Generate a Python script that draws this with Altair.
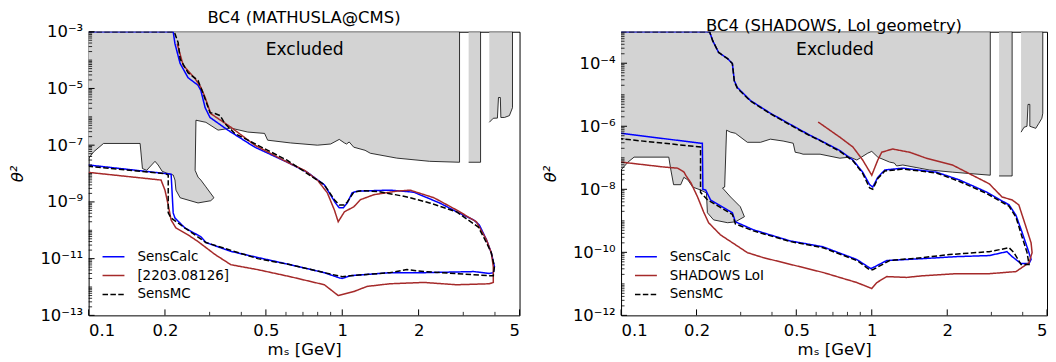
import math
import altair as alt
import pandas as pd

FONT = "DejaVu Sans"
FS = 16.5

# ---------------- tick values / labels ----------------
x_major = [0.1, 0.2, 0.5, 1, 2, 5]
x_major_labels = ["0.1", "0.2", "0.5", "1", "2", "5"]
x_minor = [0.3, 0.4, 0.6, 0.7, 0.8, 0.9, 3, 4]

L_y_major = [1e-13, 1e-11, 1e-9, 1e-7, 1e-5, 1e-3]
L_y_labels = ["10⁻¹³", "10⁻¹¹", "10⁻⁹", "10⁻⁷", "10⁻⁵", "10⁻³"]
R_y_major = [1e-12, 1e-10, 1e-8, 1e-6, 1e-4]
R_y_labels = ["10⁻¹²", "10⁻¹⁰", "10⁻⁸", "10⁻⁶", "10⁻⁴"]

# ---------------- LEFT panel (MATHUSLA@CMS) ----------------
L_blue_x = [0.1, 0.2155, 0.219, 0.2295, 0.2466, 0.270, 0.277, 0.288, 0.301, 0.354, 0.452, 0.608, 0.729, 0.850,
            0.940, 0.973, 1.01, 1.047, 1.094, 1.145, 1.54, 1.915, 2.42, 2.82, 3.30, 3.47, 3.70, 3.87, 3.98,
            3.94, 3.80, 3.30, 2.10, 1.54, 1.075, 1.0, 0.973, 0.85, 0.625, 0.464, 0.364, 0.290, 0.277, 0.240,
            0.219, 0.2155, 0.2115, 0.1]
L_blue_y = [1e-3, 1e-3, 3.8e-4, 7.6e-5, 2.4e-5, 1.3e-5, 8.5e-6, 2.1e-6, 9.5e-7, 3.4e-7, 8.5e-8, 2.5e-8, 1.1e-8, 4.0e-9,
            9.2e-10, 6.2e-10, 6.2e-10, 9.2e-10, 2.1e-9, 2.4e-9, 2.6e-9, 2.2e-9, 9.2e-10, 4.5e-10, 2.3e-10, 1.55e-10,
            4.7e-11, 1.6e-11, 5.2e-12, 3.2e-12, 3.0e-12, 3.5e-12, 3.2e-12, 3.2e-12, 2.5e-12, 2.0e-12, 2.1e-12,
            3.2e-12, 6.1e-12, 1.1e-11, 1.8e-11, 3.7e-11, 5.9e-11, 1.2e-10, 2.7e-10, 4.1e-10, 9.5e-9, 2.0e-8]

L_red_x = [0.2235, 0.236, 0.263, 0.277, 0.288, 0.303, 0.364, 0.452, 0.608, 0.710, 0.798, 0.873, 0.931, 0.964,
           1.02, 1.11, 1.18, 1.334, 1.64, 1.85, 2.30, 2.82, 3.38, 3.70, 3.87, 3.94, 3.94, 3.80, 2.82, 2.10, 1.54,
           1.253, 1.11, 0.964, 0.850, 0.625, 0.464, 0.364, 0.315, 0.270, 0.2466, 0.221, 0.2115, 0.206, 0.200,
           0.193, 0.1]
L_red_y = [3.8e-4, 6.5e-5, 2.2e-5, 1.1e-5, 4.8e-6, 1.3e-6, 4.3e-7, 1.0e-7, 2.5e-8, 1.3e-8, 5.9e-9, 2.1e-9, 5.2e-10,
           2.0e-10, 4.5e-10, 6.7e-10, 1.2e-9, 1.8e-9, 2.4e-9, 2.6e-9, 1.4e-9, 5.2e-10, 2.0e-10, 4.7e-11, 1.6e-11,
           5.2e-12, 1.45e-12, 1.3e-12, 1.2e-12, 1.45e-12, 1.3e-12, 1.05e-12, 6.9e-13, 5.0e-13, 1.2e-12, 2.3e-12,
           4.1e-12, 6.1e-12, 1.4e-11, 4.0e-11, 6.9e-11, 1.2e-10, 2.3e-10, 7.8e-10, 2.6e-9, 5.9e-9, 1.1e-8]

L_black_x = [0.1, 0.2155, 0.219, 0.2255, 0.2295, 0.2466, 0.270, 0.282, 0.301, 0.315, 0.330, 0.344, 0.377, 0.608,
             0.850, 0.931, 0.973, 1.02, 1.047, 1.11, 1.20, 1.40, 1.80, 2.21, 2.82, 3.44, 3.70, 3.87, 3.98, 3.94,
             3.80, 2.10, 1.80, 1.54, 1.075, 1.0, 0.85, 0.625, 0.464, 0.290, 0.240, 0.2115, 0.206, 0.206, 0.200, 0.1]
L_black_y = [1e-3, 1e-3, 8.5e-4, 4.1e-4, 1.1e-4, 3.6e-5, 1.9e-5, 7.2e-6, 1.4e-6, 1.3e-6, 1.1e-6, 5.9e-7, 2.6e-7,
             2.9e-8, 4.0e-9, 1.2e-9, 7.8e-10, 7.8e-10, 1.0e-9, 2.2e-9, 2.5e-9, 2.3e-9, 1.5e-9, 9.2e-10, 4.5e-10,
             1.3e-10, 3.7e-11, 1.6e-11, 5.2e-12, 2.5e-12, 2.5e-12, 3.5e-12, 4.1e-12, 3.2e-12, 2.5e-12, 2.3e-12,
             3.2e-12, 6.1e-12, 1.0e-11, 3.7e-11, 1.2e-10, 2.7e-10, 4.1e-10, 8.9e-9, 1.0e-8, 1.8e-8]

L_grey1_x = [0.1, 2.90, 2.90, 2.21, 1.64, 1.29, 1.23, 1.11, 1.065, 1.04, 1.02, 0.973, 0.90, 0.798, 0.625, 0.508,
             0.494, 0.424, 0.364, 0.324, 0.290, 0.265, 0.263, 0.270, 0.277, 0.290, 0.312, 0.303, 0.270, 0.2295,
             0.221, 0.219, 0.2155, 0.2023, 0.195, 0.188, 0.1827, 0.1694, 0.163, 0.1596, 0.1145, 0.1046, 0.1]
L_grey1_y = [1e-3, 1e-3, 2.5e-8, 2.7e-8, 3.5e-8, 5.2e-8, 6.6e-8, 8.5e-8, 1.3e-7, 1.1e-7, 1.2e-7, 1.6e-7, 1.1e-7,
             1.0e-7, 1.2e-7, 1.5e-7, 2.6e-7, 2.9e-7, 4.0e-7, 3.4e-7, 6.4e-7, 7.6e-7, 1.3e-8, 7.5e-9, 5.9e-9, 3.4e-9,
             1.4e-9, 1.1e-9, 9.2e-10, 1.4e-9, 2.6e-9, 5.9e-9, 8.9e-9, 1.05e-8, 1.2e-8, 2.0e-8, 2.7e-8, 1.3e-8,
             1.5e-8, 1.15e-7, 1.15e-7, 5.8e-8, 3.4e-8]
L_grey2_x = [3.15, 3.51, 3.51, 3.15]
L_grey2_y = [1e-3, 1e-3, 2.5e-8, 2.5e-8]
L_grey3_x = [3.80, 4.69, 4.69, 4.56, 4.36, 4.22, 4.20, 4.13, 4.09, 3.94, 3.80]
L_grey3_y = [1e-3, 1e-3, 2.1e-6, 1.1e-6, 9.5e-7, 9.5e-7, 4.8e-6, 4.8e-6, 9.0e-7, 8.9e-7, 6.4e-7]

# ---------------- RIGHT panel (SHADOWS) ----------------
R_blue_x = [0.1, 0.2255, 0.232, 0.245, 0.266, 0.278, 0.283, 0.291, 0.328, 0.394, 0.504, 0.567, 0.622, 0.746, 0.841,
            0.920, 0.981, 1.009, 1.057, 1.127, 1.33, 1.81, 2.23, 2.86, 3.53, 3.76, 3.97, 4.20, 4.32, 4.24, 3.94,
            3.63, 3.46, 2.94, 2.17, 1.59, 1.148, 1.028, 0.991, 0.872, 0.639, 0.473, 0.337, 0.2858, 0.278, 0.266,
            0.2275, 0.2175, 0.212, 0.211, 0.2075, 0.1]
R_blue_y = [1e-3, 1e-3, 5.2e-4, 2.2e-4, 1.4e-4, 9.8e-5, 2.8e-5, 1.7e-5, 6.6e-6, 2.6e-6, 8.7e-7, 5.2e-7, 3.6e-7,
            1.7e-7, 8.5e-8, 3.5e-8, 1.4e-8, 1.18e-8, 2.4e-8, 4.1e-8, 4.7e-8, 3.5e-8, 2.0e-8, 8.3e-9, 3.2e-9, 1.5e-9,
            4.5e-10, 1.2e-10, 6e-11, 4.4e-11, 4.4e-11, 7.3e-11, 1.05e-10, 7.9e-11, 7.3e-11, 6.3e-11, 5.5e-11,
            3.5e-11, 3.05e-11, 5.9e-11, 1.5e-10, 2.3e-10, 5.2e-10, 9.3e-10, 1.8e-9, 2.2e-9, 4.6e-9, 9.5e-9, 1.0e-8,
            2.9e-7, 2.9e-7, 6.0e-7]

R_red_x = [0.611, 0.622, 0.746, 0.841, 0.920, 1.0, 1.057, 1.096, 1.21, 1.415, 1.65, 2.10, 2.52, 2.94, 3.31, 3.63,
           3.86, 4.12, 4.32, 4.36, 4.24, 3.76, 2.94, 2.17, 1.59, 1.377, 1.148, 1.048, 1.0, 0.872, 0.639, 0.517,
           0.369, 0.319, 0.249, 0.2235, 0.2135, 0.202, 0.19, 0.181, 0.1785, 0.168, 0.148, 0.1]
R_red_y = [1.35e-6, 1.24e-6, 4.5e-7, 2.2e-7, 8.5e-8, 2.8e-8, 8.5e-8, 1.5e-7, 1.9e-7, 1.5e-7, 9.7e-8, 5.9e-8, 2.8e-8,
           1.5e-8, 5.7e-9, 4.6e-9, 3.2e-9, 6.5e-10, 2.0e-10, 9.8e-11, 4.7e-11, 2.45e-11, 2.1e-11, 2.1e-11, 1.8e-11,
           1.6e-11, 1.7e-11, 1.1e-11, 7.1e-12, 1.1e-11, 2.3e-11, 3.5e-11, 6.8e-11, 9.8e-11, 3.6e-10, 8.7e-10,
           1.9e-9, 5.7e-9, 1.6e-8, 2.8e-8, 3.5e-8, 4.7e-8, 5.1e-8, 7.3e-8]

R_black_x = [0.1, 0.2255, 0.232, 0.245, 0.266, 0.278, 0.283, 0.291, 0.328, 0.394, 0.504, 0.567, 0.622, 0.746,
             0.841, 0.920, 0.981, 1.009, 1.057, 1.127, 1.33, 1.81, 2.23, 2.86, 3.53, 3.76, 3.97, 4.16, 4.24, 3.94,
             3.69, 3.53, 2.94, 2.04, 1.59, 1.178, 1.009, 0.981, 0.872, 0.639, 0.473, 0.337, 0.2858, 0.278, 0.2215,
             0.2075, 0.2075, 0.1]
R_black_y = [1e-3, 1e-3, 5.2e-4, 2.2e-4, 1.4e-4, 9.8e-5, 2.6e-5, 1.6e-5, 6.3e-6, 2.5e-6, 8.3e-7, 5.0e-7, 3.5e-7,
             1.6e-7, 8.0e-8, 3.2e-8, 1.1e-8, 1.0e-8, 2.2e-8, 3.8e-8, 4.4e-8, 3.3e-8, 1.8e-8, 7.5e-9, 2.9e-9, 1.3e-9,
             3.2e-10, 1.0e-10, 4.1e-11, 4.1e-11, 9.8e-11, 1.4e-10, 1.05e-10, 8.5e-11, 6.8e-11, 5.5e-11, 2.8e-11,
             2.8e-11, 5.5e-11, 1.4e-10, 2.2e-10, 4.8e-10, 8.0e-10, 1.6e-9, 4.6e-9, 8.0e-9, 2.2e-7, 4.0e-7]

R_grey1_x = [0.1, 2.97, 2.97, 2.10, 1.70, 1.55, 1.33, 1.256, 1.23, 1.178, 1.057, 1.0, 0.964, 0.872, 0.818, 0.746,
             0.622, 0.532, 0.517, 0.495, 0.486, 0.443, 0.394, 0.36, 0.319, 0.2858, 0.2735, 0.2635, 0.259, 0.254,
             0.2735, 0.299, 0.3105, 0.2858, 0.266, 0.234, 0.221, 0.219, 0.2075, 0.193, 0.1845, 0.178, 0.173, 0.162,
             0.158, 0.155, 0.1127, 0.1066, 0.1]
R_grey1_y = [1e-3, 1e-3, 2.8e-8, 3.5e-8, 4.1e-8, 4.7e-8, 5.9e-8, 5.5e-8, 6.8e-8, 7.3e-8, 1.05e-7, 1.6e-7, 1.4e-7,
             8.5e-8, 1.05e-7, 9.7e-8, 1.3e-7, 1.3e-7, 1.4e-7, 1.5e-7, 2.9e-7, 3.4e-7, 3.9e-7, 3.1e-7, 3.1e-7, 6.0e-7,
             6.5e-7, 7.5e-7, 1.18e-8, 1.1e-8, 5.7e-9, 2.8e-9, 1.35e-9, 9.3e-10, 8.7e-10, 1.07e-9, 1.8e-9, 7.7e-9,
             9.5e-9, 1.18e-8, 2.0e-8, 2.4e-8, 1.4e-8, 1.4e-8, 4.1e-8, 1.05e-7, 1.05e-7, 7.3e-8, 4.1e-8]
R_grey2_x = [3.22, 3.63, 3.63, 3.22]
R_grey2_y = [1e-3, 1e-3, 2.65e-8, 2.65e-8]
R_grey3_x = [3.94, 4.81, 4.81, 4.77, 4.64, 4.51, 4.27, 4.27, 4.20, 4.16, 4.05, 3.94]
R_grey3_y = [1e-3, 1e-3, 2.6e-6, 1.8e-6, 1.24e-6, 8.6e-7, 1.0e-6, 4.95e-6, 4.95e-6, 1.0e-6, 9.3e-7, 6.5e-7]

L_names = ["SensCalc", "[2203.08126]", "SensMC"]
R_names = ["SensCalc", "SHADOWS LoI", "SensMC"]
colors = ["#0000ff", "#a52a2a", "#000000"]
dashes = [[1, 0], [1, 0], [5.5, 2.4]]


def label_expr(values, labels):
    expr = f"'{labels[-1]}'"
    for i in range(len(values) - 2, -1, -1):
        mid = (values[i] * values[i + 1]) ** 0.5
        expr = f"datum.value < {mid:.6g} ? '{labels[i]}' : ({expr})"
    return expr


def minor_ticks(lo_exp, hi_exp, majors):
    out = []
    for e in range(lo_exp, hi_exp):
        for k in range(1, 10):
            v = float(f"{k}e{e}")
            if v not in majors:
                out.append(v)
    return out


def panel(title, ydom, greys, curves, names, ymaj, ylabels, excl_y, width, height):
    xs = alt.Scale(type="log", domain=[0.1, 5], nice=False)
    ys = alt.Scale(type="log", domain=ydom, nice=False)
    xaxis = alt.Axis(values=x_major, labelExpr=label_expr(x_major, x_major_labels), title="mₛ [GeV]",
                     ticks=False, domain=False, grid=False, labelPadding=7, titlePadding=3)
    yaxis = alt.Axis(values=ymaj, labelExpr=label_expr(ymaj, ylabels), title="θ²", ticks=False,
                     domain=False, grid=False, labelPadding=6, titlePadding=14, titleFontStyle="italic")
    X = lambda f: alt.X(f, scale=xs, axis=xaxis)
    Y = lambda f: alt.Y(f, scale=ys, axis=yaxis)

    grows = []
    for pi, (gx, gy) in enumerate(greys):
        for i, (a, b) in enumerate(zip(gx, gy)):
            grows.append({"poly": pi, "i": i, "x": a, "y": b})
    gdf = pd.DataFrame(grows)
    grey = alt.Chart(gdf).mark_line(fill="#d3d3d3", stroke="black", strokeWidth=0.8, clip=True).encode(
        x=X("x:Q"), y=Y("y:Q"), detail="poly:N", order="i:Q")

    crows = []
    for name, (cx, cy) in zip(names, curves):
        for i, (a, b) in enumerate(zip(cx, cy)):
            crows.append({"series": name, "i": i, "x": a, "y": b})
    cdf = pd.DataFrame(crows)
    leg = alt.Legend(title=None, orient="none", legendX=13, legendY=214, symbolType="stroke",
                     symbolStrokeWidth=1.5, symbolSize=484, labelFontSize=13.5, labelFont=FONT,
                     labelOffset=12, rowPadding=0, padding=0, labelColor="black")
    lines = alt.Chart(cdf).mark_line(strokeWidth=1.5, clip=True).encode(
        x=X("x:Q"), y=Y("y:Q"),
        color=alt.Color("series:N", scale=alt.Scale(domain=names, range=colors), legend=leg),
        strokeDash=alt.StrokeDash("series:N", scale=alt.Scale(domain=names, range=dashes), legend=leg),
        order="i:Q",
    )

    ymin = minor_ticks(int(round(math.log10(ydom[0]))), int(round(math.log10(ydom[1]))), ymaj)
    ymaj_df = pd.DataFrame({"y": ymaj})
    ymin_df = pd.DataFrame({"y": ymin})
    xmaj_df = pd.DataFrame({"x": x_major})
    xmin_df = pd.DataFrame({"x": x_minor})
    yt1 = alt.Chart(ymaj_df).mark_rule(color="black", strokeWidth=1).encode(
        y=Y("y:Q"), x=alt.value(0), x2=alt.value(6))
    yt2 = alt.Chart(ymin_df).mark_rule(color="black", strokeWidth=0.8).encode(
        y=Y("y:Q"), x=alt.value(0), x2=alt.value(3.5))
    xt1 = alt.Chart(xmaj_df).mark_rule(color="black", strokeWidth=1).encode(
        x=X("x:Q"), y=alt.value(height), y2=alt.value(height - 6))
    xt2 = alt.Chart(xmin_df).mark_rule(color="black", strokeWidth=0.8).encode(
        x=X("x:Q"), y=alt.value(height), y2=alt.value(height - 3.5))

    tdf = pd.DataFrame({"x": [0.499], "y": [excl_y], "t": ["Excluded"]})
    text = alt.Chart(tdf).mark_text(align="left", baseline="middle", fontSize=17.2, font=FONT, color="black").encode(
        x=X("x:Q"), y=Y("y:Q"), text="t:N")

    return alt.layer(grey, lines, yt1, yt2, xt1, xt2, text).properties(
        width=width, height=height,
        title=alt.TitleParams(title, fontSize=FS, font=FONT, fontWeight="normal", offset=-3,
                              anchor="middle", frame="group", color="black"),
    )


left = panel("BC4 (MATHUSLA@CMS)", [1e-13, 1e-3],
             [(L_grey1_x, L_grey1_y), (L_grey2_x, L_grey2_y), (L_grey3_x, L_grey3_y)],
             [(L_blue_x, L_blue_y), (L_red_x, L_red_y), (L_black_x, L_black_y)],
             L_names, L_y_major, L_y_labels, 2.3e-4, 433, 285)
right = panel("BC4 (SHADOWS, LoI geometry)", [1e-12, 1e-3],
              [(R_grey1_x, R_grey1_y), (R_grey2_x, R_grey2_y), (R_grey3_x, R_grey3_y)],
              [(R_blue_x, R_blue_y), (R_red_x, R_red_y), (R_black_x, R_black_y)],
              R_names, R_y_major, R_y_labels, 2.7e-4, 428, 285)

chart = alt.hconcat(left, right, spacing=21).resolve_scale(
    color="independent", strokeDash="independent"
).configure(
    padding={"left": 1, "right": 0, "top": 1, "bottom": 0}, background="white"
).configure_view(stroke="black", strokeWidth=1).configure_axis(
    labelFont=FONT, labelFontSize=FS, labelColor="black", titleFont=FONT, titleFontSize=FS,
    titleColor="black", titleFontWeight="normal"
)

chart.save("out.html", embed_options={"renderer": "svg", "actions": False})
